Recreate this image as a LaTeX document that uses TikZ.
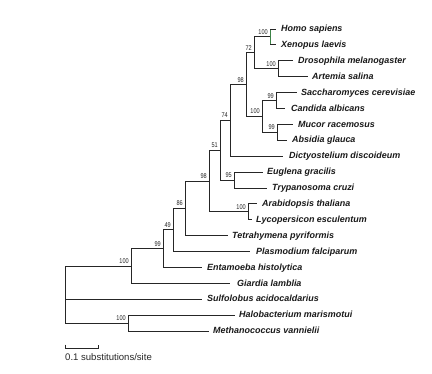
\documentclass[tikz,border=0pt]{standalone}
\usepackage{fontspec}
\setmainfont{Liberation Sans}
\newfontfamily\bootfont{Liberation Sans}[FakeStretch=0.8]
\begin{document}
\begin{tikzpicture}[x=1bp,y=-1bp,
  br/.style={line width=1bp, draw=black!85},
  grn/.style={line width=1bp, draw={rgb,255:red,60;green,130;blue,70}},
  leaf/.style={anchor=mid west, inner sep=0pt, font=\fontsize{9}{10}\selectfont\bfseries\itshape, text=black!90},
  boot/.style={anchor=base east, inner sep=0pt, font=\bootfont\fontsize{7}{8}\selectfont, text=black!85},
  scaletext/.style={anchor=mid west, inner sep=0pt, font=\fontsize{9.6}{10}\selectfont, text=black!85}]
\useasboundingbox (0,0) rectangle (432,374);
% internal nodes
\coordinate (A) at (270,36.95);
\coordinate (B) at (278,68.75);
\coordinate (C) at (254,52.85);
\coordinate (D) at (276,100.55);
\coordinate (E) at (277,132.35);
\coordinate (F) at (262,116.45);
\coordinate (G) at (246,84.65);
\coordinate (H) at (230,120.43);
\coordinate (I) at (234,180.05);
\coordinate (J) at (220,150.24);
\coordinate (K) at (248,211.85);
\coordinate (L) at (209,181.05);
\coordinate (M) at (185,208.37);
\coordinate (N) at (173,229.99);
\coordinate (O) at (163,248.74);
\coordinate (P) at (131,266.07);
\coordinate (Q) at (128,323.15);
\coordinate (R) at (65,299.3);
% tips
\coordinate (t0) at (276,29);
\coordinate (t1) at (276,44.9);
\coordinate (t2) at (293,60.8);
\coordinate (t3) at (308,76.7);
\coordinate (t4) at (297,92.6);
\coordinate (t5) at (285,108.5);
\coordinate (t6) at (293,124.4);
\coordinate (t7) at (287,140.3);
\coordinate (t8) at (283,156.2);
\coordinate (t9) at (263,172.1);
\coordinate (t10) at (267,188);
\coordinate (t11) at (257,203.9);
\coordinate (t12) at (252,219.8);
\coordinate (t13) at (228,235.7);
\coordinate (t14) at (250,251.6);
\coordinate (t15) at (202,267.5);
\coordinate (t16) at (230,283.4);
\coordinate (t17) at (202,299.3);
\coordinate (t18) at (235,315.2);
\coordinate (t19) at (209,331.1);
% leaf labels
\node[leaf] (homo) at (281,29) {Homo sapiens};
\node[leaf] (xeno) at (281,44.9) {Xenopus laevis};
\node[leaf] (dros) at (298,60.8) {Drosophila melanogaster};
\node[leaf] (arte) at (312,76.7) {Artemia salina};
\node[leaf] (sacc) at (301,92.6) {Saccharomyces cerevisiae};
\node[leaf] (cand) at (291,108.5) {Candida albicans};
\node[leaf] (muco) at (298,124.4) {Mucor racemosus};
\node[leaf] (absi) at (292,140.3) {Absidia glauca};
\node[leaf] (dict) at (289,156.2) {Dictyostelium discoideum};
\node[leaf] (eugl) at (267,172.1) {Euglena gracilis};
\node[leaf] (tryp) at (272,188) {Trypanosoma cruzi};
\node[leaf] (arab) at (262,203.9) {Arabidopsis thaliana};
\node[leaf] (lyco) at (256,219.8) {Lycopersicon esculentum};
\node[leaf] (tetr) at (232,235.7) {Tetrahymena pyriformis};
\node[leaf] (plas) at (256,251.6) {Plasmodium falciparum};
\node[leaf] (enta) at (207,267.5) {Entamoeba histolytica};
\node[leaf] (giar) at (237,283.4) {Giardia lamblia};
\node[leaf] (sulf) at (207,299.3) {Sulfolobus acidocaldarius};
\node[leaf] (halo) at (239,315.2) {Halobacterium marismotui};
\node[leaf] (meth) at (213,331.1) {Methanococcus vannielii};
% branches
\draw[grn] (t0 -| A) -- (t1 -| A);
\draw[br] (A |- t0) -- (t0);
\draw[br] (A |- t1) -- (t1);
\draw[br] (B) |- (t2);  \draw[br] (B) |- (t3);
\draw[br] (C) |- (A);   \draw[br] (C) |- (B);
\draw[br] (D) |- (t4);  \draw[br] (D) |- (t5);
\draw[br] (E) |- (t6);  \draw[br] (E) |- (t7);
\draw[br] (F) |- (D);   \draw[br] (F) |- (E);
\draw[br] (G) |- (C);   \draw[br] (G) |- (F);
\draw[br] (H) |- (G);   \draw[br] (H) |- (t8);
\draw[br] (I) |- (t9);  \draw[br] (I) |- (t10);
\draw[br] (J) |- (H);   \draw[br] (J) |- (I);
\draw[br] (K) |- (t11); \draw[br] (K) |- (t12);
\draw[br] (L) |- (J);   \draw[br] (L) |- (K);
\draw[br] (M) |- (L);   \draw[br] (M) |- (t13);
\draw[br] (N) |- (M);   \draw[br] (N) |- (t14);
\draw[br] (O) |- (N);   \draw[br] (O) |- (t15);
\draw[br] (P) |- (O);   \draw[br] (P) |- (t16);
\draw[br] (Q) |- (t18); \draw[br] (Q) |- (t19);
\draw[br] (R) |- (P);   \draw[br] (R) |- (Q);
\draw[br] (R) -- (t17);
% bootstrap values
\node[boot] (bA) at ([shift={(-2,-2.5)}]A) {100};
\node[boot] (bB) at ([shift={(-2,-2.5)}]B) {100};
\node[boot] (bC) at ([shift={(-2,-2.5)}]C) {72};
\node[boot] (bD) at ([shift={(-2,-2.5)}]D) {99};
\node[boot] (bE) at ([shift={(-2,-2.5)}]E) {99};
\node[boot] (bF) at ([shift={(-2,-2.5)}]F) {100};
\node[boot] (bG) at ([shift={(-2,-2.5)}]G) {98};
\node[boot] (bH) at ([shift={(-2,-2.5)}]H) {74};
\node[boot] (bI) at ([shift={(-2,-2.5)}]I) {95};
\node[boot] (bJ) at ([shift={(-2,-2.5)}]J) {51};
\node[boot] (bK) at ([shift={(-2,-2.5)}]K) {100};
\node[boot] (bL) at ([shift={(-2,-2.5)}]L) {98};
\node[boot] (bM) at ([shift={(-2,-2.5)}]M) {86};
\node[boot] (bN) at ([shift={(-2,-2.5)}]N) {49};
\node[boot] (bO) at ([shift={(-2,-2.5)}]O) {99};
\node[boot] (bP) at ([shift={(-2,-2.5)}]P) {100};
\node[boot] (bQ) at ([shift={(-2,-2.5)}]Q) {100};
% scale bar
\coordinate (s1) at (65,344.5);
\coordinate (s2) at (98,344.5);
\draw[br, line width=0.8bp] (s1) -- ++(0,4) -| (s2);
\node[scaletext] (stext) at (65,358) {0.1 substitutions/site};
\end{tikzpicture}
\end{document}
